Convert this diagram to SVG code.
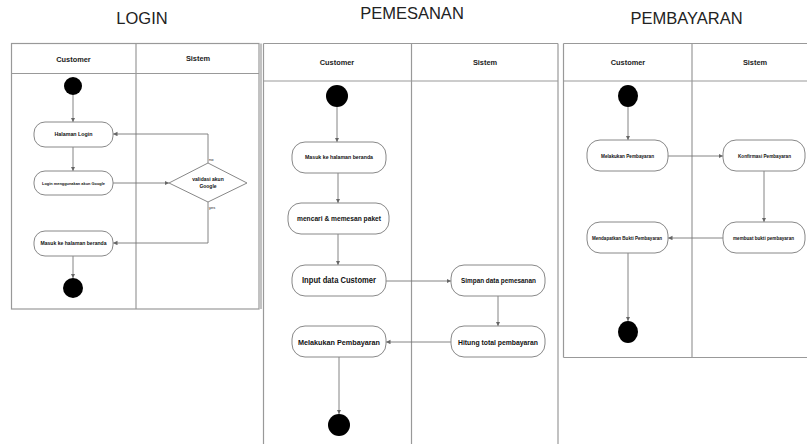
<svg xmlns="http://www.w3.org/2000/svg" width="807" height="444" viewBox="0 0 807 444">
<style>
.title{font-family:"Liberation Sans",Arial,sans-serif;font-size:16.5px;fill:#222;text-anchor:middle}
.hd{font-family:"Liberation Sans",Arial,sans-serif;font-weight:bold;font-size:7.4px;fill:#222;text-anchor:middle}
.t{font-family:"Liberation Sans",Arial,sans-serif;font-weight:bold;fill:#111;text-anchor:middle}
.lane{fill:none;stroke:#999;stroke-width:1.2}
.node{fill:#fff;stroke:#888;stroke-width:1}
.c{fill:none;stroke:#777;stroke-width:0.9;marker-end:url(#ah)}
.dot{fill:#000}
.lbl{font-family:"Liberation Sans",Arial,sans-serif;font-size:4px;fill:#222}
</style>
<defs>
<marker id="ah" markerUnits="userSpaceOnUse" markerWidth="5" markerHeight="5" refX="4.5" refY="2.25" orient="auto">
<path d="M0,0 L4.5,2.25 L0,4.5 z" fill="#666"/>
</marker>
</defs>
<rect width="807" height="444" fill="#fff"/>

<!-- LOGIN -->
<g id="login-panel">
<text class="title" x="142" y="23.5">LOGIN</text>
<rect class="lane" x="11.5" y="43.5" width="247.5" height="265.5"/>
<line class="lane" x1="261" y1="43.5" x2="261" y2="309"/>
<line class="lane" x1="11.5" y1="73.5" x2="259" y2="73.5"/>
<line class="lane" x1="136" y1="43.5" x2="136" y2="309"/>
<text class="hd" x="73.5" y="61.5">Customer</text>
<text class="hd" x="198" y="61">Sistem</text>
</g>
<g id="connectors-login">
<line class="c" x1="73" y1="95" x2="73" y2="122"/>
<line class="c" x1="73" y1="147" x2="73" y2="171"/>
<line class="c" x1="113" y1="183" x2="169" y2="183"/>
<polyline class="c" points="208,163 208,134 113,134"/>
<polyline class="c" points="208,202 208,243 113,243"/>
<line class="c" x1="73" y1="256" x2="73" y2="278"/>
<text class="lbl" x="209" y="161">no</text>
<text class="lbl" x="209" y="209">yes</text>
</g>
<g id="l-start"><circle class="dot" cx="73" cy="86" r="9"/></g>
<g id="l-halaman"><rect class="node" x="34" y="122" width="79" height="25" rx="11"/><text class="t" x="73.5" y="136.3" font-size="5.3">Halaman Login</text></g>
<g id="l-google"><rect class="node" x="34" y="171" width="79" height="24" rx="11"/><text class="t" x="73.5" y="184.5" font-size="4.2" textLength="63" lengthAdjust="spacingAndGlyphs">Login menggunakan akun Google</text></g>
<g id="l-validasi"><polygon class="node" points="208,163 247,183 208,202 169,183"/><text class="t" x="208" y="181" font-size="5">validasi akun</text><text class="t" x="208" y="187.5" font-size="5">Google</text></g>
<g id="l-masuk"><rect class="node" x="34" y="231" width="79" height="25" rx="11"/><text class="t" x="73.5" y="245.3" font-size="5.3" textLength="66" lengthAdjust="spacingAndGlyphs">Masuk ke halaman beranda</text></g>
<g id="l-end"><circle class="dot" cx="73" cy="288" r="10"/></g>

<!-- PEMESANAN -->
<g id="pemesanan-panel">
<text class="title" x="412" y="19">PEMESANAN</text>
<line class="lane" x1="263.5" y1="43.5" x2="263.5" y2="444"/>
<line class="lane" x1="558" y1="43.5" x2="558" y2="444"/>
<line class="lane" x1="263.5" y1="43.5" x2="558" y2="43.5"/>
<line class="lane" x1="263.5" y1="81" x2="558" y2="81"/>
<line class="lane" x1="411.5" y1="43.5" x2="411.5" y2="444"/>
<text class="hd" x="337" y="64.5">Customer</text>
<text class="hd" x="485" y="64.5">Sistem</text>
</g>
<g id="connectors-pemesanan">
<line class="c" x1="337" y1="107" x2="337" y2="142"/>
<line class="c" x1="338" y1="173" x2="338" y2="203"/>
<line class="c" x1="338" y1="234" x2="338" y2="265"/>
<line class="c" x1="386" y1="281" x2="451" y2="281"/>
<line class="c" x1="498" y1="296" x2="498" y2="326"/>
<line class="c" x1="451" y1="342" x2="386" y2="342"/>
<line class="c" x1="339" y1="357" x2="339" y2="414"/>
</g>
<g id="p-start"><circle class="dot" cx="337" cy="96" r="11"/></g>
<g id="p-masuk"><rect class="node" x="292" y="142" width="94" height="31" rx="13"/><text class="t" x="339" y="159.4" font-size="5.6" textLength="68" lengthAdjust="spacingAndGlyphs">Masuk ke halaman beranda</text></g>
<g id="p-mencari"><rect class="node" x="288" y="203" width="101" height="31" rx="13"/><text class="t" x="339" y="221.4" font-size="7.6" textLength="84" lengthAdjust="spacingAndGlyphs">mencari &amp; memesan paket</text></g>
<g id="p-input"><rect class="node" x="292" y="265" width="94" height="31" rx="13"/><text class="t" x="339" y="283.4" font-size="8.8" textLength="74" lengthAdjust="spacingAndGlyphs">Input data Customer</text></g>
<g id="p-simpan"><rect class="node" x="451" y="265" width="94" height="31" rx="13"/><text class="t" x="498.5" y="283" font-size="7" textLength="75" lengthAdjust="spacingAndGlyphs">Simpan data pemesanan</text></g>
<g id="p-hitung"><rect class="node" x="451" y="326" width="94" height="31" rx="13"/><text class="t" x="498" y="344.5" font-size="7.4" textLength="80" lengthAdjust="spacingAndGlyphs">Hitung total pembayaran</text></g>
<g id="p-melakukan"><rect class="node" x="292" y="326" width="94" height="31" rx="13"/><text class="t" x="339" y="344.5" font-size="7.4" textLength="82" lengthAdjust="spacingAndGlyphs">Melakukan Pembayaran</text></g>
<g id="p-end"><circle class="dot" cx="339" cy="425" r="11"/></g>

<!-- PEMBAYARAN -->
<g id="pembayaran-panel">
<text class="title" x="686.5" y="24">PEMBAYARAN</text>
<line class="lane" x1="563.5" y1="43.5" x2="563.5" y2="357.5"/>
<line class="lane" x1="563.5" y1="43.5" x2="807" y2="43.5"/>
<line class="lane" x1="563.5" y1="81" x2="807" y2="81"/>
<line class="lane" x1="563.5" y1="357.5" x2="807" y2="357.5"/>
<line class="lane" x1="692" y1="43.5" x2="692" y2="357.5"/>
<text class="hd" x="628" y="64.5">Customer</text>
<text class="hd" x="755" y="64.5">Sistem</text>
</g>
<g id="connectors-pembayaran">
<line class="c" x1="628" y1="107" x2="628" y2="140"/>
<line class="c" x1="668" y1="156" x2="723" y2="156"/>
<line class="c" x1="764" y1="171" x2="764" y2="222"/>
<line class="c" x1="723" y1="238" x2="668" y2="238"/>
<line class="c" x1="628" y1="253" x2="628" y2="321"/>
</g>
<g id="b-start"><ellipse class="dot" cx="628" cy="96" rx="10" ry="11"/></g>
<g id="b-melakukan"><rect class="node" x="587" y="140" width="81" height="31" rx="13"/><text class="t" x="627.5" y="157.5" font-size="4.6" textLength="53" lengthAdjust="spacingAndGlyphs">Melakukan Pembayaran</text></g>
<g id="b-konfirmasi"><rect class="node" x="723" y="140" width="82" height="31" rx="13"/><text class="t" x="764.5" y="157.5" font-size="4.6" textLength="53" lengthAdjust="spacingAndGlyphs">Konfirmasi Pembayaran</text></g>
<g id="b-membuat"><rect class="node" x="723" y="222" width="82" height="31" rx="13"/><text class="t" x="763.5" y="239.5" font-size="4.6" textLength="61" lengthAdjust="spacingAndGlyphs">membuat bukti pembayaran</text></g>
<g id="b-mendapatkan"><rect class="node" x="587" y="222" width="81" height="31" rx="13"/><text class="t" x="627" y="239.5" font-size="4.6" textLength="70" lengthAdjust="spacingAndGlyphs">Mendapatkan Bukti Pembayaran</text></g>
<g id="b-end"><ellipse class="dot" cx="628" cy="332" rx="10" ry="11"/></g>
</svg>
